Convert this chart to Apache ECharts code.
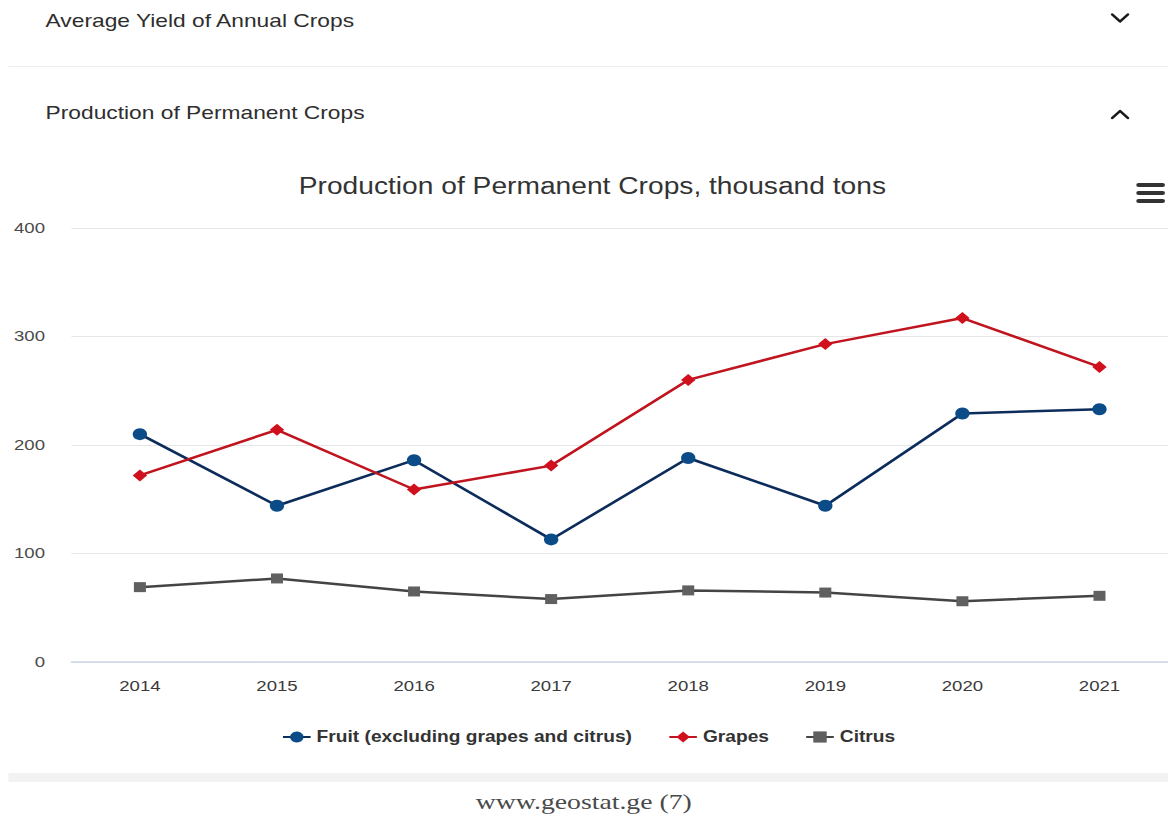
<!DOCTYPE html>
<html>
<head>
<meta charset="utf-8">
<script src="https://cdn.jsdelivr.net/npm/echarts@6/dist/echarts.min.js"></script>
<style>
  html, body { margin: 0; padding: 0; background: #fff; overflow: hidden; width: 1168px; height: 818px; }
  /* the page is laid out at a narrower width and widened to fill the window */
  #page { position: absolute; left: 0; top: 0; width: 974px; height: 818px; transform: scaleX(1.1992); transform-origin: 0 0; }
  #chart { width: 974px; height: 818px; }
  #footer {
    position: absolute; left: 0; top: 789px; width: 1168px; text-align: center; line-height: 25px;
    font-family: "Liberation Serif", "DejaVu Serif", serif; font-size: 22px; color: #4a4a4a;
  }
  #footer span { display: inline-block; transform: scaleX(1.26); }
</style>
</head>
<body>
<div id="page"><div id="chart"></div></div>
<div id="footer"><span>www.geostat.ge (7)</span></div>
<script>
// Production of permanent crops, thousand tons
const years = ['2014', '2015', '2016', '2017', '2018', '2019', '2020', '2021'];
const fruit = [210, 144, 186, 113, 188, 144, 229, 233];
const grapes = [172, 214, 159, 181, 260, 293, 317, 272];
const citrus = [69, 77, 65, 58, 66, 64, 56, 61];
const yTicks = [0, 100, 200, 300, 400];

const FONT = '"Liberation Sans", Arial, Helvetica, sans-serif';

const chart = echarts.init(document.getElementById('chart'), null, { renderer: 'svg' });

// chevron glyph for the collapsible section headers
function chevron(cx, cy, up) {
  const d = up ? -1 : 1;
  return {
    type: 'polyline',
    shape: { points: [[cx - 6.5, cy - 3.5 * d], [cx, cy + 3.5 * d], [cx + 6.5, cy - 3.5 * d]] },
    style: { stroke: '#1a1a1a', lineWidth: 2.4, fill: null, lineCap: 'round', lineJoin: 'round' }
  };
}

function menuBar(y) {
  return { type: 'rect', shape: { x: 947.5, y: y, width: 24, height: 4, r: 2 }, style: { fill: '#333333' } };
}

const option = {
  animation: false,
  textStyle: { fontFamily: FONT },
  graphic: [
    { type: 'text', x: 38, y: 20, style: { text: 'Average Yield of Annual Crops', fontFamily: FONT, fontSize: 19, fill: '#2e2e2e', textVerticalAlign: 'middle' } },
    { type: 'rect', shape: { x: 7, y: 66, width: 970, height: 1 }, style: { fill: '#eeeeee' } },
    { type: 'text', x: 38, y: 112, style: { text: 'Production of Permanent Crops', fontFamily: FONT, fontSize: 19, fill: '#2e2e2e', textVerticalAlign: 'middle' } },
    chevron(934, 18, false),
    chevron(934, 114.5, true),
    menuBar(183), menuBar(191), menuBar(199),
    { type: 'text', x: 494, y: 186, style: { text: 'Production of Permanent Crops, thousand tons', fontFamily: FONT, fontSize: 23.5, fill: '#333333', textAlign: 'center', textVerticalAlign: 'middle' } },
    { type: 'rect', shape: { x: 7, y: 773, width: 970, height: 9 }, style: { fill: '#f2f2f2' } }
  ],
  legend: {
    top: 724,
    left: 230,
    itemGap: 30,
    itemWidth: 23,
    itemHeight: 14,
    textStyle: { fontFamily: FONT, fontSize: 16, fontWeight: 'bold', color: '#333333' },
    data: ['Fruit (excluding grapes and citrus)', 'Grapes', 'Citrus']
  },
  grid: { left: 59.5, right: 0, top: 228, bottom: 156, containLabel: false },
  xAxis: {
    type: 'category',
    data: years,
    boundaryGap: true,
    axisLine: { lineStyle: { color: '#ccd6eb', width: 1.5 } },
    axisTick: { show: false },
    axisLabel: { fontSize: 15.5, color: '#3a3a3a', margin: 16, fontFamily: FONT }
  },
  yAxis: {
    type: 'value',
    min: yTicks[0],
    max: yTicks[yTicks.length - 1],
    interval: 100,
    axisLine: { show: false },
    axisTick: { show: false },
    splitLine: { lineStyle: { color: '#e6e6e6', width: 1 } },
    axisLabel: { fontSize: 15.5, color: '#4a4a4a', margin: 22, fontFamily: FONT }
  },
  series: [
    {
      name: 'Fruit (excluding grapes and citrus)',
      type: 'line',
      data: fruit,
      symbol: 'circle',
      symbolSize: 12,
      lineStyle: { color: '#0c2c5c', width: 2.5 },
      itemStyle: { color: '#0b4c88' }
    },
    {
      name: 'Grapes',
      type: 'line',
      data: grapes,
      symbol: 'diamond',
      symbolSize: 12,
      lineStyle: { color: '#c0141f', width: 2.5 },
      itemStyle: { color: '#d0101c' }
    },
    {
      name: 'Citrus',
      type: 'line',
      data: citrus,
      symbol: 'rect',
      symbolSize: 10,
      lineStyle: { color: '#444444', width: 2.5 },
      itemStyle: { color: '#606060' }
    }
  ]
};

chart.setOption(option);
</script>
</body>
</html>
